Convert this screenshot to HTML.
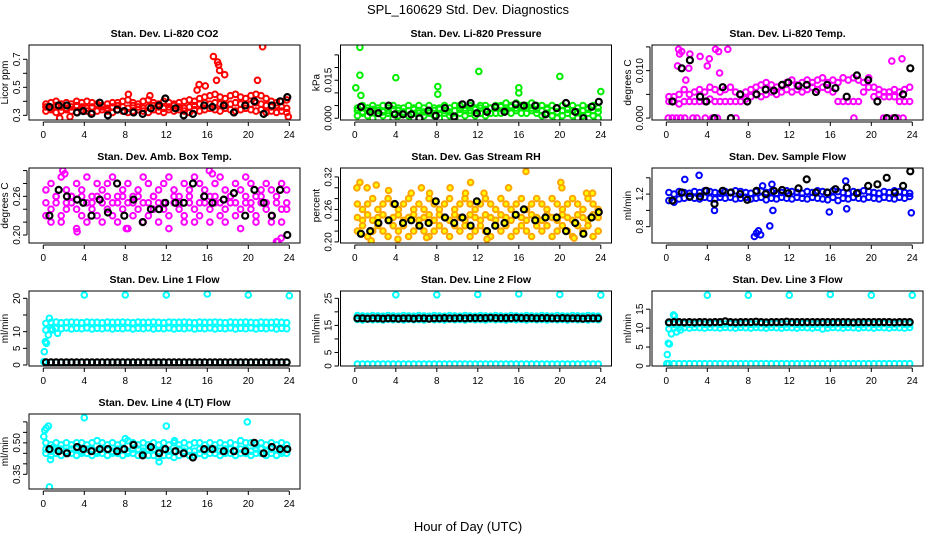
<!DOCTYPE html>
<html><head><meta charset="utf-8"><style>
body{margin:0;background:#fff;}
svg{display:block;font-family:"Liberation Sans",sans-serif;}
</style></head><body>
<svg id="chart" width="936" height="540" viewBox="0 0 936 540">
<rect width="936" height="540" fill="#fff"/>
<text x="468" y="14" text-anchor="middle" font-size="13">SPL_160629  Std. Dev. Diagnostics</text>
<text x="468" y="531" text-anchor="middle" font-size="13">Hour of Day (UTC)</text>
</svg>
<script>
const H48=[0.25,0.75,1.25,1.75,2.25,2.75,3.25,3.75,4.25,4.75,5.25,5.75,6.25,6.75,7.25,7.75,8.25,8.75,9.25,9.75,10.25,10.75,11.25,11.75,12.25,12.75,13.25,13.75,14.25,14.75,15.25,15.75,16.25,16.75,17.25,17.75,18.25,18.75,19.25,19.75,20.25,20.75,21.25,21.75,22.25,22.75,23.25,23.75];
const BH=[0.6,1.5,2.3,3.3,3.9,4.7,5.5,6.3,7.2,7.9,8.8,9.7,10.5,11.3,11.9,12.9,13.7,14.6,15.7,16.5,17.6,18.6,19.7,20.6,21.5,22.3,23.1,23.8];
const xTicks=[0,4,8,12,16,20,24];

// P1 CO2
const co2A=[0.38,0.39,0.40,0.38,0.39,0.38,0.40,0.39,0.40,0.39,0.38,0.37,0.38,0.39,0.39,0.40,0.41,0.39,0.38,0.40,0.41,0.39,0.38,0.40,0.39,0.38,0.39,0.40,0.41,0.40,0.42,0.43,0.44,0.45,0.43,0.42,0.44,0.45,0.43,0.42,0.44,0.45,0.44,0.42,0.40,0.39,0.40,0.41];
const co2B=[0.33,0.34,0.32,0.33,0.34,0.33,0.32,0.34,0.33,0.32,0.33,0.34,0.33,0.32,0.34,0.33,0.32,0.33,0.34,0.33,0.32,0.34,0.33,0.32,0.34,0.33,0.34,0.33,0.32,0.34,0.33,0.34,0.35,0.34,0.33,0.35,0.34,0.33,0.34,0.35,0.34,0.33,0.34,0.32,0.33,0.32,0.33,0.32];
const co2C=[0.36,0.35,0.37,0.36,0.35,0.36,0.37,0.36,0.35,0.36,0.37,0.36,0.35,0.36,0.37,0.36,0.35,0.37,0.36,0.35,0.36,0.37,0.36,0.35,0.36,0.37,0.36,0.35,0.36,0.37,0.38,0.39,0.38,0.39,0.38,0.37,0.38,0.39,0.38,0.37,0.38,0.39,0.38,0.37,0.36,0.37,0.36,0.35];
const co2OutX=[16.6,17.1,17.2,17.0,17.7,21.4,20.9,16.9,15.2,15.0,15.8,1.6,2.6,23.9,8.3,10.4];
const co2OutY=[0.72,0.66,0.62,0.68,0.59,0.79,0.55,0.55,0.52,0.48,0.51,0.28,0.29,0.29,0.45,0.44];
const co2Black=[0.36,0.37,0.37,0.32,0.33,0.31,0.39,0.30,0.34,0.33,0.32,0.31,0.35,0.37,0.42,0.35,0.30,0.31,0.37,0.36,0.37,0.32,0.37,0.40,0.31,0.37,0.40,0.43];

// P2 Pressure
const presA=[0.004,0.005,0.004,0.005,0.004,0.005,0.004,0.005,0.004,0.004,0.005,0.004,0.005,0.004,0.005,0.004,0.004,0.005,0.004,0.005,0.005,0.004,0.005,0.004,0.005,0.005,0.004,0.005,0.005,0.006,0.005,0.006,0.005,0.005,0.006,0.005,0.005,0.004,0.005,0.004,0.005,0.004,0.005,0.004,0.005,0.004,0.005,0.004];
const presB=[0.001,0.002,0.001,0.000,0.002,0.001,0.002,0.000,0.001,0.002,0.001,0.000,0.002,0.001,0.002,0.001,0.000,0.002,0.001,0.000,0.002,0.001,0.002,0.001,0.002,0.001,0.002,0.002,0.002,0.003,0.002,0.003,0.002,0.002,0.003,0.002,0.001,0.002,0.001,0.000,0.001,0.002,0.001,0.000,0.001,0.002,0.001,0.000];
const presC=[0.003,0.0025,0.003,0.0035,0.003,0.0025,0.003,0.0035,0.003,0.0025,0.003,0.0035,0.003,0.0025,0.003,0.003,0.0035,0.003,0.0025,0.003,0.0035,0.003,0.003,0.0035,0.004,0.0035,0.004,0.004,0.0045,0.004,0.0045,0.004,0.0045,0.004,0.004,0.0035,0.003,0.0035,0.003,0.0025,0.003,0.0035,0.003,0.0025,0.003,0.0035,0.003,0.0025];
const presOutX=[0.5,0.5,0.1,4.0,8.1,8.1,12.1,16.0,16.0,20.0,24.0,0.6];
const presOutY=[0.028,0.017,0.012,0.016,0.0125,0.0095,0.0185,0.012,0.010,0.0165,0.0105,0.009];
const presBlack=[0.0045,0.0025,0.002,0.005,0.0015,0.0015,0.0015,0.000,0.003,0.001,0.004,0.0007,0.0055,0.006,0.002,0.0025,0.0045,0.0025,0.0055,0.005,0.005,0.0015,0.004,0.006,0.0025,0.000,0.0045,0.0065];

// P3 Li-820 Temp
const tempA=[0.0045,0.0045,0.005,0.006,0.005,0.0055,0.006,0.0055,0.0065,0.006,0.0055,0.006,0.0065,0.0055,0.005,0.0055,0.006,0.0065,0.007,0.0075,0.007,0.0065,0.007,0.0075,0.008,0.007,0.0075,0.008,0.0075,0.008,0.0085,0.0075,0.008,0.0075,0.0085,0.008,0.0085,0.008,0.0075,0.0085,0.0065,0.006,0.0055,0.0055,0.006,0.0055,0.006,0.0065];
const tempB=[0.0035,0.0035,0.003,0.0035,0.0035,0.0035,0.0035,0.0035,0.004,0.0035,0.0035,0.0035,0.0035,0.0035,0.0035,0.004,0.0045,0.005,0.0045,0.005,0.0055,0.005,0.0055,0.006,0.0055,0.006,0.0055,0.006,0.0065,0.006,0.0065,0.006,0.0055,0.0035,0.0035,0.0035,0.0035,0.0035,0.0055,0.0065,0.0045,0.005,0.0045,0.0045,0.0045,0.0035,0.0035,0.0035];
const tempOutX=[0.2,0.6,1.0,1.4,1.8,2.6,3.0,3.8,4.5,5.0,6.8,1.2,1.3,1.5,2.3,3.3,4.2,4.8,5.1,6.0,1.1,2.2,4.0,5.2,23.0,22.0,1.9,18.3,21.2,21.6,22.1,22.6,23.1];
const tempOutY=[0,0,0,0,0,0,0,0,0,0,0,0.0145,0.0135,0.014,0.0135,0.013,0.0125,0.0145,0.014,0.0145,0.011,0.0105,0.011,0.0095,0.0125,0.012,0.008,0,0,0,0,0,0];
const tempBlack=[0.0035,0.0105,0.0122,0.0045,0.0035,0.000,0.0065,0.000,0.005,0.0035,0.005,0.006,0.0058,0.007,0.0075,0.0068,0.007,0.0055,0.007,0.0063,0.0045,0.009,0.008,0.0035,0.000,0.000,0.005,0.0105];

// P4 Amb Box Temp
const ambA=[0.27,0.28,0.26,0.29,0.27,0.26,0.28,0.27,0.29,0.26,0.28,0.27,0.28,0.29,0.26,0.27,0.28,0.26,0.27,0.29,0.28,0.26,0.27,0.28,0.29,0.27,0.26,0.28,0.27,0.29,0.28,0.27,0.26,0.28,0.29,0.27,0.26,0.28,0.27,0.29,0.28,0.26,0.27,0.28,0.27,0.26,0.28,0.27];
const ambB=[0.25,0.24,0.25,0.23,0.24,0.25,0.24,0.23,0.25,0.24,0.23,0.25,0.24,0.23,0.25,0.24,0.25,0.23,0.24,0.25,0.23,0.24,0.25,0.24,0.23,0.25,0.24,0.23,0.25,0.24,0.23,0.25,0.24,0.25,0.23,0.24,0.25,0.23,0.24,0.25,0.24,0.23,0.25,0.24,0.23,0.25,0.24,0.25];
const ambC=[0.23,0.22,0.26,0.22,0.25,0.26,0.21,0.26,0.22,0.25,0.26,0.22,0.26,0.25,0.22,0.26,0.21,0.25,0.26,0.22,0.25,0.26,0.22,0.25,0.21,0.26,0.25,0.22,0.26,0.22,0.25,0.26,0.22,0.26,0.25,0.22,0.26,0.25,0.21,0.26,0.25,0.22,0.26,0.25,0.22,0.19,0.22,0.24];
const ambOutX=[1.9,2.1,16.2,16.5,3.3,8.1,22.9,23.2];
const ambOutY=[0.30,0.295,0.30,0.295,0.205,0.21,0.19,0.195];
const ambBlack=[0.23,0.27,0.26,0.255,0.25,0.23,0.255,0.235,0.28,0.23,0.255,0.22,0.24,0.24,0.25,0.25,0.25,0.28,0.26,0.25,0.255,0.265,0.23,0.27,0.25,0.23,0.27,0.20];

// P5 Gas Stream RH
const rhA=[0.27,0.26,0.27,0.28,0.26,0.27,0.28,0.27,0.26,0.27,0.28,0.26,0.27,0.26,0.28,0.27,0.26,0.27,0.28,0.26,0.27,0.28,0.27,0.26,0.27,0.28,0.27,0.26,0.28,0.27,0.26,0.27,0.28,0.26,0.27,0.28,0.27,0.26,0.28,0.27,0.26,0.27,0.28,0.27,0.26,0.28,0.27,0.26];
const rhB=[0.245,0.24,0.25,0.24,0.245,0.25,0.24,0.245,0.25,0.24,0.245,0.25,0.24,0.245,0.25,0.24,0.25,0.245,0.24,0.25,0.245,0.24,0.25,0.245,0.24,0.25,0.245,0.24,0.25,0.245,0.24,0.25,0.245,0.24,0.25,0.245,0.24,0.25,0.245,0.24,0.25,0.245,0.24,0.25,0.245,0.24,0.25,0.245];
const rhC=[0.22,0.23,0.21,0.22,0.23,0.22,0.21,0.23,0.22,0.23,0.21,0.22,0.23,0.22,0.21,0.22,0.23,0.22,0.21,0.23,0.22,0.23,0.21,0.22,0.23,0.22,0.21,0.23,0.22,0.23,0.21,0.22,0.23,0.22,0.21,0.23,0.22,0.23,0.21,0.22,0.23,0.22,0.21,0.23,0.22,0.23,0.21,0.22];
const rhOutX=[0.2,0.5,1.2,2.1,3.3,5.5,6.5,7.3,9.3,10.8,11.3,12.6,15.0,16.7,20.1,20.2,22.6,23.2,1.6,4.2,7.0,12.9,21.4];
const rhOutY=[0.30,0.31,0.30,0.305,0.295,0.29,0.30,0.29,0.30,0.29,0.31,0.29,0.30,0.33,0.31,0.30,0.29,0.29,0.202,0.205,0.208,0.205,0.207];
const rhBlack=[0.215,0.22,0.235,0.24,0.27,0.235,0.24,0.23,0.235,0.275,0.245,0.235,0.245,0.23,0.275,0.22,0.23,0.235,0.25,0.26,0.24,0.245,0.245,0.22,0.235,0.215,0.245,0.255];

// P6 Sample Flow
const flA=[1.22,1.20,1.23,1.22,1.21,1.23,1.22,1.24,1.23,1.22,1.21,1.23,1.22,1.24,1.23,1.22,1.21,1.23,1.24,1.22,1.23,1.21,1.22,1.24,1.23,1.22,1.21,1.23,1.22,1.24,1.23,1.22,1.24,1.23,1.22,1.21,1.23,1.22,1.24,1.23,1.22,1.21,1.23,1.22,1.24,1.23,1.22,1.21];
const flB=[1.12,1.10,1.14,1.15,1.16,1.15,1.14,1.16,1.15,1.14,1.16,1.15,1.16,1.14,1.15,1.16,1.14,1.15,1.16,1.13,1.15,1.14,1.16,1.15,1.14,1.16,1.15,1.14,1.16,1.15,1.14,1.13,1.16,1.12,1.15,1.14,1.16,1.15,1.14,1.16,1.15,1.14,1.16,1.15,1.14,1.16,1.15,1.17];
const flOutX=[8.6,8.8,9.0,9.2,10.1,4.7,10.4,15.9,17.6,23.9,3.2,1.8,9.4,10.3,17.5];
const flOutY=[0.68,0.72,0.75,0.70,0.81,1.0,1.0,0.98,1.02,0.97,1.43,1.38,1.30,1.32,1.36];
const flBlack=[1.12,1.22,1.17,1.17,1.24,1.08,1.24,1.22,1.20,1.13,1.24,1.20,1.24,1.25,1.21,1.27,1.38,1.22,1.22,1.26,1.28,1.21,1.30,1.32,1.40,1.22,1.30,1.48];

// P7 Line 1 Flow
const l1A=[12.5,12.8,12.9,12.7,12.8,12.9,12.8,12.7,12.9,12.8,12.8,12.7,12.9,12.8,12.8,12.9,12.8,12.7,12.9,12.8,12.8,12.9,12.8,12.7,12.9,12.8,12.8,12.9,12.8,12.7,12.9,12.8,12.8,12.9,12.8,12.7,12.9,12.8,12.8,12.9,12.8,12.7,12.9,12.8,12.8,12.9,12.8,12.7];
const l1B=[10.5,10.8,11.0,10.9,11.1,10.8,11.0,10.9,11.1,10.8,11.0,10.9,11.1,10.8,11.0,10.9,11.1,10.8,11.0,10.9,11.1,10.8,11.0,10.9,11.1,10.8,11.0,10.9,11.1,10.8,11.0,10.9,11.1,10.8,11.0,10.9,11.1,10.8,11.0,10.9,11.1,10.8,11.0,10.9,11.1,10.8,11.0,10.9];
const l1C=[0.8,0.8,0.8,0.8,0.8,0.8,0.8,0.8,0.8,0.8,0.8,0.8,0.8,0.8,0.8,0.8,0.8,0.8,0.8,0.8,0.8,0.8,0.8,0.8,0.8,0.8,0.8,0.8,0.8,0.8,0.8,0.8,0.8,0.8,0.8,0.8,0.8,0.8,0.8,0.8,0.8,0.8,0.8,0.8,0.8,0.8,0.8,0.8];
const l1OutX=[4,8,12,16,20,24,0.1,0.2,0.3,0.5,0.6,0.9,1.2,1.4,0.05];
const l1OutY=[21,21,21,21.3,21,20.8,4,7,6.5,9,14,10.5,11,9.5,1];
const l1Black=[0.8,0.8,0.8,0.8,0.8,0.8,0.8,0.8,0.8,0.8,0.8,0.8,0.8,0.8,0.8,0.8,0.8,0.8,0.8,0.8,0.8,0.8,0.8,0.8,0.8,0.8,0.8,0.8,0.8,0.8,0.8,0.8,0.8,0.8,0.8,0.8,0.8,0.8,0.8,0.8,0.8,0.8,0.8,0.8,0.8,0.8,0.8,0.8];

// P8 Line 2 Flow
const l2A=[18.6,18.5,18.4,18.6,18.5,18.4,18.6,18.5,18.4,18.6,18.5,18.4,18.6,18.5,18.4,18.6,18.5,18.4,18.6,18.5,18.4,18.6,18.5,18.4,18.6,18.5,18.4,18.6,18.5,18.4,18.6,18.5,18.4,18.6,18.5,18.4,18.6,18.5,18.4,18.6,18.5,18.4,18.6,18.5,18.4,18.6,18.5,18.4];
const l2B=[17.2,17.0,17.3,17.1,17.2,17.0,17.3,17.1,17.2,17.0,17.3,17.1,17.2,17.0,17.3,17.1,17.2,17.0,17.3,17.1,17.2,17.0,17.3,17.1,17.2,17.0,17.3,17.1,17.2,17.0,17.3,17.1,17.2,17.0,17.3,17.1,17.2,17.0,17.3,17.1,17.2,17.0,17.3,17.1,17.2,17.0,17.3,17.1];
const l2C=[0.7,0.7,0.7,0.7,0.7,0.7,0.7,0.7,0.7,0.7,0.7,0.7,0.7,0.7,0.7,0.7,0.7,0.7,0.7,0.7,0.7,0.7,0.7,0.7,0.7,0.7,0.7,0.7,0.7,0.7,0.7,0.7,0.7,0.7,0.7,0.7,0.7,0.7,0.7,0.7,0.7,0.7,0.7,0.7,0.7,0.7,0.7,0.7];
const l2OutX=[4,8,12,16,20,24];
const l2OutY=[26.3,26.3,26.4,26.6,26.4,26.2];
const l2Black=[17.6,17.6,17.5,17.6,17.6,17.5,17.6,17.6,17.5,17.6,17.6,17.5,17.6,17.6,17.5,17.6,17.6,17.7,17.6,17.6,17.7,17.6,17.7,17.7,17.7,17.7,17.8,17.7,17.7,17.7,17.7,17.8,17.7,17.7,17.7,17.6,17.7,17.7,17.6,17.6,17.7,17.6,17.6,17.6,17.5,17.6,17.6,17.6];

// P9 Line 3 Flow
const l3A=[11.2,11.0,11.1,11.2,11.0,11.1,11.2,11.0,11.1,11.2,11.0,11.1,11.2,11.0,11.1,11.2,11.0,11.1,11.2,11.0,11.1,11.2,11.0,11.1,11.2,11.0,11.1,11.2,11.0,11.1,11.2,11.0,11.1,11.2,11.0,11.1,11.2,11.0,11.1,11.2,11.0,11.1,11.2,11.0,11.1,11.2,11.0,11.1];
const l3B=[9.8,10.0,10.2,10.1,10.0,10.2,10.1,10.0,10.2,10.1,10.0,10.2,10.1,10.0,10.2,10.1,10.0,10.2,10.1,10.0,10.2,10.1,10.0,10.2,10.1,10.0,10.2,10.1,10.0,10.2,9.8,10.0,10.2,10.1,10.0,10.2,10.1,10.0,10.2,10.1,10.0,10.2,10.1,10.0,10.2,10.1,10.0,10.2];
const l3C=[0.6,0.6,0.6,0.6,0.6,0.6,0.6,0.6,0.6,0.6,0.6,0.6,0.6,0.6,0.6,0.6,0.6,0.6,0.6,0.6,0.6,0.6,0.6,0.6,0.6,0.6,0.6,0.6,0.6,0.6,0.6,0.6,0.6,0.6,0.6,0.6,0.6,0.6,0.6,0.6,0.6,0.6,0.6,0.6,0.6,0.6,0.6,0.6];
const l3OutX=[4,8,12,16,20,24,0.1,0.2,0.3,0.5,0.7,0.8,1.0,1.4,0.05];
const l3OutY=[18.7,18.7,18.7,18.9,18.7,18.7,3,6,5.8,8.5,13.5,13.2,9,9.5,0.6];
const l3Black=[11.5,11.6,11.6,11.5,11.6,11.5,11.6,11.6,11.5,11.6,11.6,11.8,11.6,11.5,11.6,11.6,11.6,11.7,11.6,11.5,11.6,11.6,11.6,11.7,11.6,11.6,11.6,11.6,11.6,11.6,11.6,11.6,11.6,11.6,11.6,11.6,11.5,11.6,11.6,11.6,11.6,11.6,11.6,11.6,11.5,11.6,11.6,11.6];

// P10 Line 4 (LT) Flow
const l4A=[0.50,0.49,0.50,0.49,0.50,0.49,0.50,0.50,0.49,0.50,0.51,0.50,0.49,0.50,0.49,0.50,0.51,0.50,0.49,0.50,0.49,0.50,0.49,0.50,0.49,0.50,0.49,0.50,0.49,0.50,0.50,0.49,0.50,0.49,0.50,0.49,0.50,0.49,0.51,0.50,0.50,0.49,0.50,0.49,0.50,0.49,0.50,0.49];
const l4B=[0.47,0.46,0.47,0.47,0.46,0.47,0.47,0.46,0.47,0.47,0.46,0.47,0.47,0.46,0.47,0.47,0.46,0.47,0.47,0.46,0.47,0.47,0.46,0.47,0.46,0.46,0.47,0.46,0.46,0.46,0.47,0.46,0.47,0.47,0.46,0.47,0.47,0.46,0.47,0.47,0.46,0.47,0.47,0.46,0.47,0.47,0.46,0.47];
const l4C=[0.45,0.44,0.45,0.44,0.45,0.45,0.44,0.45,0.45,0.44,0.45,0.45,0.44,0.45,0.45,0.44,0.45,0.45,0.44,0.45,0.44,0.44,0.43,0.44,0.44,0.43,0.44,0.45,0.44,0.44,0.45,0.44,0.45,0.45,0.44,0.45,0.45,0.44,0.45,0.45,0.44,0.45,0.45,0.44,0.45,0.44,0.45,0.45];
const l4OutX=[0.05,0.15,0.3,0.5,0.6,0.7,4.0,12.0,19.9,11.3,1.0,8.0,12.8];
const l4OutY=[0.53,0.56,0.57,0.58,0.29,0.42,0.62,0.58,0.60,0.41,0.48,0.52,0.51];
const l4Black=[0.47,0.46,0.45,0.48,0.47,0.46,0.47,0.47,0.46,0.47,0.49,0.44,0.48,0.45,0.47,0.46,0.45,0.43,0.47,0.47,0.46,0.46,0.46,0.50,0.45,0.48,0.47,0.47];

const NS='http://www.w3.org/2000/svg';
const svg=document.getElementById('chart');
function mk(tag,attrs,parent){const e=document.createElementNS(NS,tag);for(const k in attrs)e.setAttribute(k,attrs[k]);(parent||svg).appendChild(e);return e;}

const panels=[
 {key:'co2',title:'Stan. Dev. Li-820 CO2',yl:'Licor ppm',col:0,row:0,color:'#ff0000',ymin:0.2666,ymax:0.802,ticks:[0.3,0.4,0.5,0.6,0.7],labs:['0.3','0.5','0.7'],bands:[co2A,co2B,co2C],ox:co2OutX,oy:co2OutY,bx:BH,by:co2Black},
 {key:'pressure',title:'Stan. Dev. Li-820 Pressure',yl:'kPa',col:1,row:0,color:'#00ee00',ymin:-0.0007,ymax:0.0289,ticks:[0,0.005,0.01,0.015,0.02,0.025],labs:['0.000','0.015'],bands:[presA,presB,presC],ox:presOutX,oy:presOutY,bx:BH,by:presBlack},
 {key:'licor-temp',title:'Stan. Dev. Li-820 Temp.',yl:'degrees C',col:2,row:0,color:'#ff00ff',ymin:-0.0004,ymax:0.0154,ticks:[0,0.005,0.01,0.015],labs:['0.000','0.010'],bands:[tempA,tempB],ox:tempOutX,oy:tempOutY,bx:BH,by:tempBlack},
 {key:'amb-box-temp',title:'Stan. Dev. Amb. Box Temp.',yl:'degrees C',col:0,row:1,color:'#ff00ff',ymin:0.1876,ymax:0.304,ticks:[0.2,0.22,0.24,0.26,0.28,0.3],labs:['0.20','0.26'],bands:[ambA,ambB,ambC],ox:ambOutX,oy:ambOutY,bx:BH,by:ambBlack},
 {key:'gas-rh',title:'Stan. Dev. Gas Stream RH',yl:'percent',col:1,row:1,color:'#ffa500',fill:'#ffff00',ymin:0.198,ymax:0.3365,ticks:[0.2,0.22,0.24,0.26,0.28,0.3,0.32],labs:['0.20','0.26','0.32'],bands:[rhA,rhB,rhC],ox:rhOutX,oy:rhOutY,bx:BH,by:rhBlack},
 {key:'sample-flow',title:'Stan. Dev. Sample Flow',yl:'ml/min',col:2,row:1,color:'#0000ff',ymin:0.6,ymax:1.52,ticks:[0.8,1.0,1.2,1.4],labs:['0.8','1.2'],bands:[flA,flB],ox:flOutX,oy:flOutY,bx:BH,by:flBlack},
 {key:'line1-flow',title:'Stan. Dev. Line 1 Flow',yl:'ml/min',col:0,row:2,color:'#00ffff',ymin:-0.3,ymax:22.2,ticks:[0,5,10,15,20],labs:['0','5','10','20'],bands:[l1A,l1B,l1C],ox:l1OutX,oy:l1OutY,bx:H48,by:l1Black},
 {key:'line2-flow',title:'Stan. Dev. Line 2 Flow',yl:'ml/min',col:1,row:2,color:'#00ffff',ymin:0,ymax:27.7,ticks:[0,5,10,15,20,25],labs:['0','5','15','25'],bands:[l2A,l2B,l2C],ox:l2OutX,oy:l2OutY,bx:H48,by:l2Black},
 {key:'line3-flow',title:'Stan. Dev. Line 3 Flow',yl:'ml/min',col:2,row:2,color:'#00ffff',ymin:0,ymax:19.8,ticks:[0,5,10,15],labs:['0','5','10','15'],bands:[l3A,l3B,l3C],ox:l3OutX,oy:l3OutY,bx:H48,by:l3Black},
 {key:'line4-flow',title:'Stan. Dev. Line 4 (LT) Flow',yl:'ml/min',col:0,row:3,color:'#00ffff',ymin:0.28,ymax:0.6375,ticks:[0.35,0.4,0.45,0.5,0.55,0.6],labs:['0.35','0.50'],bands:[l4A,l4B,l4C],ox:l4OutX,oy:l4OutY,bx:BH,by:l4Black}
];

panels.forEach(p=>{
  const L=29+p.col*311.5, T=45+p.row*123, W=271, Hh=75, B=T+Hh;
  const g=mk('g',{});
  
  
  const xs=h=>L+14.3+h*(246/24);
  const ys=v=>B-(v-p.ymin)/(p.ymax-p.ymin)*Hh;
  const t=mk('text',{x:L+W/2,y:T-8,'text-anchor':'middle','font-size':'10.5','font-weight':'bold'},g);
  t.textContent=p.title;
  
  
  const clip=mk('clipPath',{id:'c-'+p.key},g);
  mk('rect',{x:L,y:T,width:W,height:Hh},clip);
  const marks=mk('g',{'clip-path':'url(#c-'+p.key+')'},g);
  const dot=(x,y,col,r,sw,name)=>{const c=mk('circle',{cx:xs(x).toFixed(1),cy:ys(y).toFixed(1),r:r,fill:p.fill||'none',stroke:col,'stroke-width':sw},marks);
    
    };
  p.bands.forEach(arr=>arr.forEach((v,i)=>dot(H48[i],v,p.color,2.8,2,'series-point')));
  p.ox.forEach((x,i)=>dot(x,p.oy[i],p.color,2.8,2,'series-point'));
  p.by.forEach((v,i)=>dot(p.bx[i],v,'#000',3,2.2,'daily-point'));
  mk('rect',{x:L,y:T,width:W,height:Hh,fill:'none',stroke:'#000','stroke-width':1},g);
  const xa=mk('g',{},g);
  
  
  mk('line',{x1:xs(0),x2:xs(24),y1:B+2,y2:B+2,stroke:'#000'},xa);
  xTicks.forEach(h=>{mk('line',{x1:xs(h),x2:xs(h),y1:B+2,y2:B+6,stroke:'#000'},xa);
    const tl=mk('text',{x:xs(h),y:B+18,'text-anchor':'middle','font-size':'10'},xa);tl.textContent=h;});
  const ya=mk('g',{},g);
  
  
  mk('line',{x1:L-2,x2:L-2,y1:ys(p.ticks[0]),y2:ys(p.ticks[p.ticks.length-1]),stroke:'#000'},ya);
  p.ticks.forEach(v=>mk('line',{x1:L-6,x2:L-2,y1:ys(v),y2:ys(v),stroke:'#000'},ya));
  p.labs.forEach(s=>{const v=parseFloat(s);const y=ys(v);
    const tl=mk('text',{x:L-9,y:y,'text-anchor':'middle','font-size':'10',transform:'rotate(-90 '+(L-9)+' '+y+')'},ya);tl.textContent=s;});
  const yt=mk('text',{x:L-21,y:T+Hh/2,'text-anchor':'middle','font-size':'10',transform:'rotate(-90 '+(L-21)+' '+(T+Hh/2)+')'},g);
  yt.textContent=p.yl;
  
  
});
</script>
</body></html>
